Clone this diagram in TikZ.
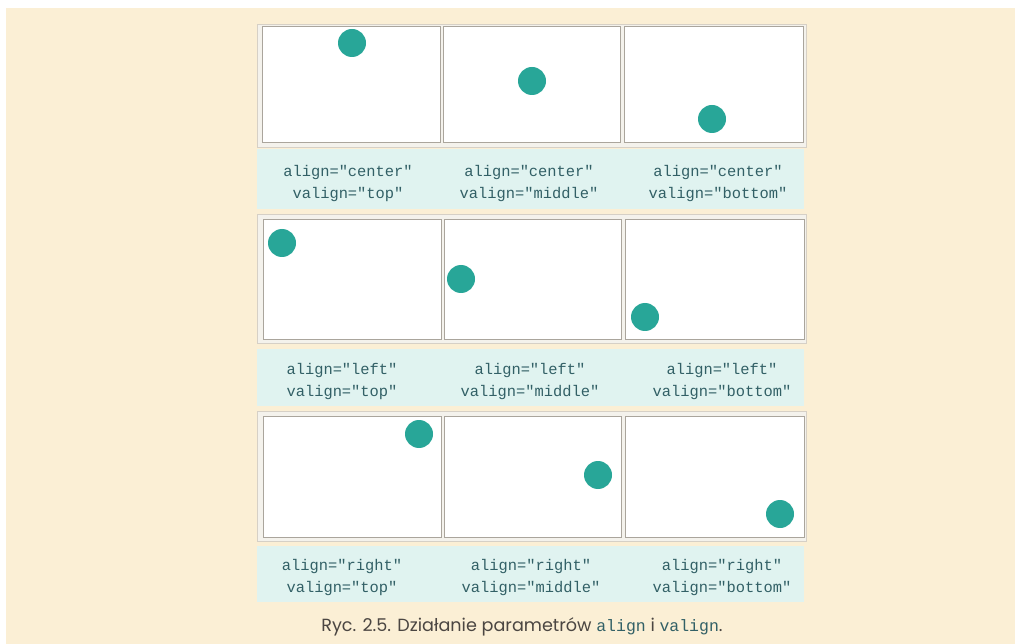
\documentclass[tikz,border=0pt]{standalone}
\usepackage{fontspec}
\setmonofont{Liberation Mono}
\newfontfamily\capfont{Poppins}
\definecolor{cream}{RGB}{251,239,213}
\definecolor{bandc}{RGB}{224,243,240}
\definecolor{framec}{RGB}{244,242,236}
\definecolor{frameline}{RGB}{214,208,198}
\definecolor{cellline}{RGB}{170,165,156}
\definecolor{dotc}{RGB}{40,166,152}
\definecolor{codec}{RGB}{50,96,102}
\definecolor{capc}{RGB}{75,70,66}
\tikzset{
  rowframe/.style={fill=framec,draw=frameline,line width=0.8pt},
  cell/.style={rectangle,fill=white,draw=cellline,line width=1pt,inner sep=0pt},
  dotnode/.style={circle,fill=dotc,draw=none,minimum size=28pt,inner sep=0pt},
  bandnode/.style={rectangle,fill=bandc,draw=none,inner sep=0pt},
  lbl/.style={font=\ttfamily\fontsize{15.4}{22}\selectfont,text=codec,align=center,inner sep=0pt},
}
\begin{document}
\begin{tikzpicture}[x=1pt,y=-1pt]
\useasboundingbox (0,0) rectangle (1015,644);
\fill[white] (0,0) rectangle (1015,644);
\fill[cream] (6,8) rectangle (1015,644);
% row frames
\node[rowframe,rectangle,inner sep=0pt,minimum width=549pt,minimum height=123pt] (f1) at (531.5,85.5) {};
\node[rowframe,rectangle,inner sep=0pt,minimum width=549pt,minimum height=129pt] (f2) at (531.5,279) {};
\node[rowframe,rectangle,inner sep=0pt,minimum width=549pt,minimum height=130pt] (f3) at (531.5,476) {};
% cells row 1
\node[cell,minimum width=178pt,minimum height=116pt] (c11) at (351,85) {};
\node[cell,minimum width=177pt,minimum height=116pt] (c12) at (531.5,85) {};
\node[cell,minimum width=179pt,minimum height=116pt] (c13) at (713.5,85) {};
% cells row 2
\node[cell,minimum width=178pt,minimum height=120pt] (c21) at (352,280) {};
\node[cell,minimum width=177pt,minimum height=120pt] (c22) at (532.5,280) {};
\node[cell,minimum width=179pt,minimum height=120pt] (c23) at (714.5,280) {};
% cells row 3
\node[cell,minimum width=178pt,minimum height=121pt] (c31) at (352,476.5) {};
\node[cell,minimum width=177pt,minimum height=121pt] (c32) at (532.5,476.5) {};
\node[cell,minimum width=179pt,minimum height=121pt] (c33) at (714.5,476.5) {};
% dots
\node[dotnode] (d11) at (352,43) {};
\node[dotnode] (d12) at (532,81) {};
\node[dotnode] (d13) at (712,119) {};
\node[dotnode] (d21) at (282,243) {};
\node[dotnode] (d22) at (461,279) {};
\node[dotnode] (d23) at (645,317) {};
\node[dotnode] (d31) at (419,434) {};
\node[dotnode] (d32) at (598,475) {};
\node[dotnode] (d33) at (780,514) {};
% bands
\node[bandnode,minimum width=547pt,minimum height=60pt] (b1) at (530.5,179) {};
\node[bandnode,minimum width=547pt,minimum height=56pt] (b2) at (530.5,377.5) {};
\node[bandnode,minimum width=547pt,minimum height=56pt] (b3) at (530.5,573.5) {};
% labels
\node[lbl] (l11) at (348,184) {align="center"\\valign="top"};
\node[lbl] (l12) at (529,184) {align="center"\\valign="middle"};
\node[lbl] (l13) at (718,184) {align="center"\\valign="bottom"};
\node[lbl] (l21) at (342,382) {align="left"\\valign="top"};
\node[lbl] (l22) at (530,382) {align="left"\\valign="middle"};
\node[lbl] (l23) at (722,382) {align="left"\\valign="bottom"};
\node[lbl] (l31) at (342,578) {align="right"\\valign="top"};
\node[lbl] (l32) at (531,578) {align="right"\\valign="middle"};
\node[lbl] (l33) at (722,578) {align="right"\\valign="bottom"};
% caption
\node[inner sep=0pt,text=capc,font=\capfont\fontsize{17.6}{20}\selectfont] (cap) at (522,627)
  {Ryc. 2.5. Działanie parametrów {\ttfamily\fontsize{16.5}{18}\selectfont\color{codec}align} i {\ttfamily\fontsize{16.5}{18}\selectfont\color{codec}valign}.};
\end{tikzpicture}
\end{document}
